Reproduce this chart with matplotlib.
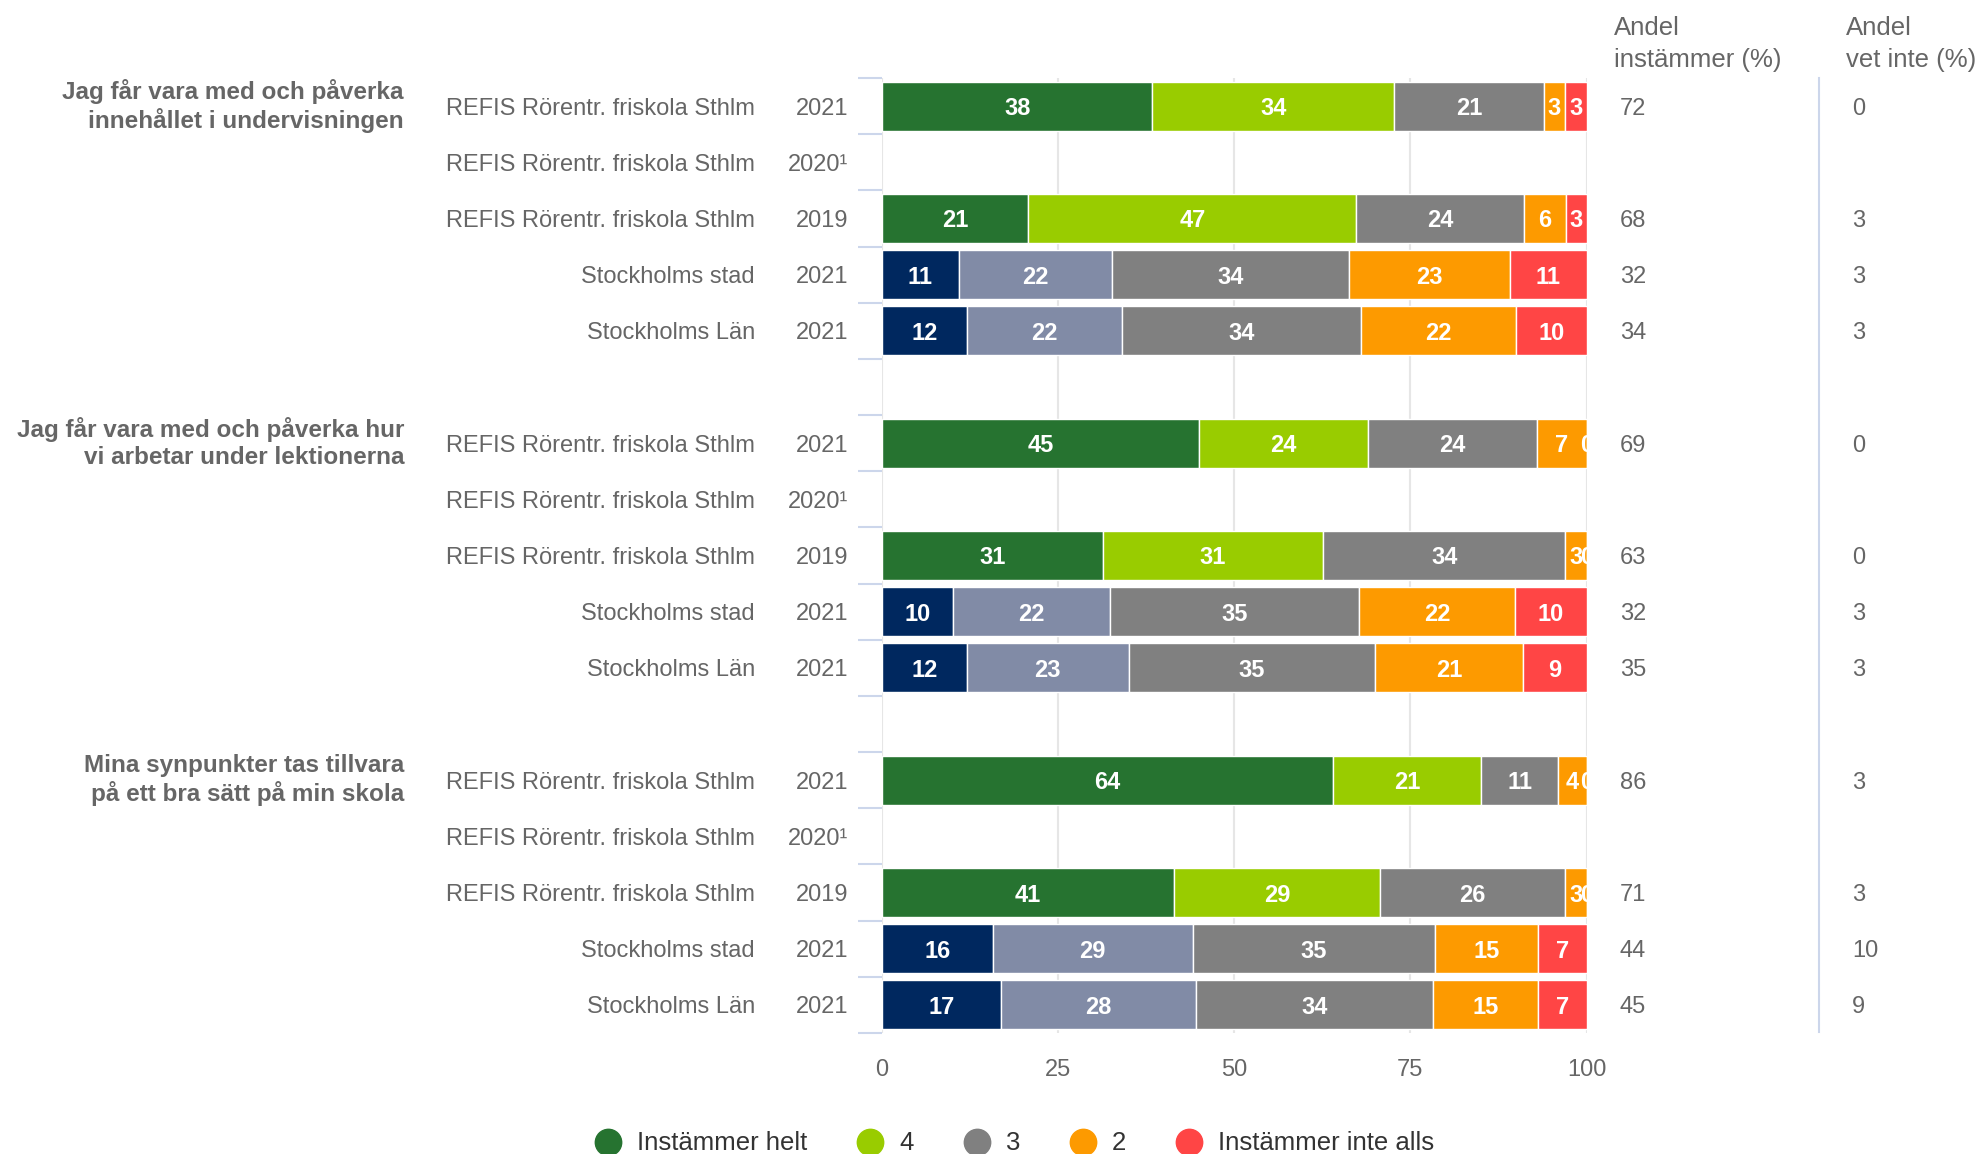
import numpy as np
import matplotlib
matplotlib.use("Agg")
import matplotlib.pyplot as plt
from matplotlib.lines import Line2D
from matplotlib import transforms

plt.rcParams['font.family'] = ['Liberation Sans', 'DejaVu Sans']

# ---------------- data ----------------
questions = [
    "Jag får vara med och påverka\ninnehållet i undervisningen",
    "Jag får vara med och påverka hur\nvi arbetar under lektionerna",
    "Mina synpunkter tas tillvara\npå ett bra sätt på min skola",
]
units = ["REFIS Rörentr. friskola Sthlm", "REFIS Rörentr. friskola Sthlm",
         "REFIS Rörentr. friskola Sthlm", "Stockholms stad", "Stockholms Län"]
years = ["2021", "2020¹", "2019", "2021", "2021"]

nan = np.nan
helt      = [38, nan, 21, 11, 12, 45, nan, 31, 10, 12, 64, nan, 41, 16, 17]
fyra      = [34, nan, 47, 22, 22, 24, nan, 31, 22, 23, 21, nan, 29, 29, 28]
tre       = [21, nan, 24, 34, 34, 24, nan, 34, 35, 35, 11, nan, 26, 35, 34]
tva       = [3,  nan, 6,  23, 22, 7,  nan, 3,  22, 21, 4,  nan, 3,  15, 15]
inte_alls = [3,  nan, 3,  11, 10, 0,  nan, 0,  10, 9,  0,  nan, 0,  7,  7]

andel_instammer = [72, None, 68, 32, 34, 69, None, 63, 32, 35, 86, None, 71, 44, 45]
andel_vet_inte  = [0, None, 3, 3, 3, 0, None, 0, 3, 3, 3, None, 3, 10, 9]

legend_labels = ["Instämmer helt", "4", "3", "2", "Instämmer inte alls"]
x_ticks = [0, 25, 50, 75, 100]

# ---------------- styles ----------------
own_colors = ["#267330", "#99cc00", "#808080", "#fd9a00", "#ff4545"]
cmp_colors = ["#00285f", "#818ba6", "#808080", "#fd9a00", "#ff4545"]
W, H = 1979, 1154
TXT = "#666666"

fig = plt.figure(figsize=(W / 100, H / 100), dpi=100)
ax = fig.add_axes([882 / W, 1 - 1033 / H, (1586.5 - 882) / W, (1033 - 78) / H])

lab_tr = transforms.offset_copy(ax.transData, fig=fig, y=-2.5, units="dots")

series = [helt, fyra, tre, tva, inte_alls]
n_rows = len(units)
for q in range(len(questions)):
    for r in range(n_rows):
        i = q * n_rows + r
        pos = q * (n_rows + 1) + r
        vals = np.array([s[i] for s in series], dtype=float)
        if np.isnan(vals).all():
            continue
        pct = vals / vals.sum() * 100
        cols = own_colors if r < 3 else cmp_colors
        left = 0.0
        for j, p in enumerate(pct):
            ax.barh(pos, p, left=left, height=0.87, color=cols[j],
                    edgecolor="white", linewidth=1, zorder=3)
            ax.text(left + p / 2, pos, f"{int(vals[j])}", ha="center", va="center",
                    color="white", fontsize=17, fontweight="bold", zorder=4,
                    clip_on=True, transform=lab_tr)
            left += p

n_slots = len(questions) * (n_rows + 1) - 1
ax.set_xlim(0, 100)
ax.set_ylim(n_slots - 0.5, -0.5)
ax.set_xticks(x_ticks)
ax.set_yticks([])
ax.set_yticks(np.arange(-0.5, n_slots, 1.0), minor=True)
ax.tick_params(axis="y", which="minor", length=17, width=1.5, color="#ccd6eb",
               labelleft=False)
ax.tick_params(axis="x", length=0, pad=18.5, labelsize=17, labelcolor=TXT)
for s in ax.spines.values():
    s.set_visible(False)
ax.xaxis.grid(True, color="#e6e6e6", linewidth=1.5)
ax.set_axisbelow(True)

# ---------------- row labels and right columns ----------------
tr0 = transforms.blended_transform_factory(fig.transFigure, ax.transData)
tr = transforms.offset_copy(tr0, fig=fig, y=-2.5, units="dots")
for q in range(len(questions)):
    base = q * (n_rows + 1)
    ax.text(404 / W, base, questions[q], transform=tr0, ha="right", va="center",
            multialignment="right", fontsize=17.5, fontweight="bold", color=TXT,
            linespacing=1.2)
    for r in range(n_rows):
        i = q * n_rows + r
        pos = base + r
        ax.text(755 / W, pos, units[r], transform=tr, ha="right", va="center",
                fontsize=17, color=TXT)
        ax.text(848 / W, pos, years[r], transform=tr, ha="right", va="center",
                fontsize=17, color=TXT)
        if andel_instammer[i] is not None:
            ax.text(1620 / W, pos, str(andel_instammer[i]), transform=tr,
                    ha="left", va="center", fontsize=17, color=TXT)
        if andel_vet_inte[i] is not None:
            ax.text(1852 / W, pos, str(andel_vet_inte[i]), transform=tr,
                    ha="left", va="center", fontsize=17, color=TXT)

fig.text(1614 / W, 1 - 35 / H, "Andel", ha="left", va="baseline", fontsize=18.5, color=TXT)
fig.text(1614 / W, 1 - 67 / H, "instämmer (%)", ha="left", va="baseline", fontsize=18.5, color=TXT)
fig.text(1846 / W, 1 - 35 / H, "Andel", ha="left", va="baseline", fontsize=18.5, color=TXT)
fig.text(1846 / W, 1 - 67 / H, "vet inte (%)", ha="left", va="baseline", fontsize=18.5, color=TXT)

fig.add_artist(Line2D([1819 / W, 1819 / W], [1 - 78 / H, 1 - 1032 / H],
                      transform=fig.transFigure, color="#ccd6eb", linewidth=1.5))

# ---------------- legend ----------------
handles = [Line2D([], [], marker="o", linestyle="", markersize=19,
                  markerfacecolor=c, markeredgecolor=c) for c in own_colors]
fig.legend(handles, legend_labels, loc="center",
           bbox_to_anchor=(1015 / W, 1 - 1143.5 / H), ncol=5, frameon=False,
           fontsize=18.5, handlelength=1.0, handletextpad=0.63,
           columnspacing=1.95, labelcolor="#333333")

fig.savefig("out.png", dpi=100)
